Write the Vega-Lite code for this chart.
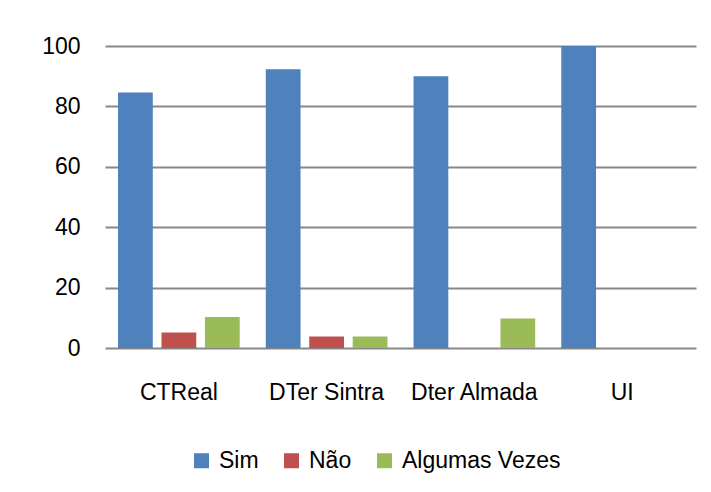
{
  "$schema": "https://vega.github.io/schema/vega-lite/v6.json",
  "width": 591,
  "height": 302,
  "autosize": {"type": "none"},
  "padding": {"left": 105, "top": 46, "right": 15, "bottom": 144},
  "background": "white",
  "config": {
    "view": {"stroke": null},
    "font": "Liberation Sans",
    "axis": {"labelFont": "Liberation Sans", "labelColor": "#000000"},
    "legend": {"labelFont": "Liberation Sans"}
  },
  "data": {
    "values": [
      {"local": "CTReal", "resposta": "Sim", "valor": 84.6},
      {"local": "CTReal", "resposta": "Não", "valor": 5.1},
      {"local": "CTReal", "resposta": "Algumas Vezes", "valor": 10.3},
      {"local": "DTer Sintra", "resposta": "Sim", "valor": 92.3},
      {"local": "DTer Sintra", "resposta": "Não", "valor": 3.8},
      {"local": "DTer Sintra", "resposta": "Algumas Vezes", "valor": 3.8},
      {"local": "Dter Almada", "resposta": "Sim", "valor": 90},
      {"local": "Dter Almada", "resposta": "Não", "valor": 0},
      {"local": "Dter Almada", "resposta": "Algumas Vezes", "valor": 9.8},
      {"local": "UI", "resposta": "Sim", "valor": 100},
      {"local": "UI", "resposta": "Não", "valor": 0},
      {"local": "UI", "resposta": "Algumas Vezes", "valor": 0}
    ]
  },
  "mark": {"type": "bar"},
  "encoding": {
    "x": {
      "field": "local",
      "type": "nominal",
      "sort": null,
      "scale": {"paddingInner": 0, "paddingOuter": 0},
      "axis": {
        "title": null,
        "labelAngle": 0,
        "ticks": false,
        "domain": false,
        "grid": false,
        "labelFontSize": 23,
        "labelBaseline": "alphabetic",
        "labelPadding": 51
      }
    },
    "xOffset": {
      "field": "resposta",
      "type": "nominal",
      "sort": ["Sim", "Não", "Algumas Vezes"],
      "scale": {"paddingInner": 0.2, "paddingOuter": 0.3}
    },
    "y": {
      "field": "valor",
      "type": "quantitative",
      "scale": {"domain": [0, 100], "nice": false},
      "axis": {
        "title": null,
        "values": [0, 20, 40, 60, 80, 100],
        "ticks": false,
        "domain": false,
        "grid": true,
        "gridColor": "#888888",
        "gridWidth": 2,
        "labelFontSize": 23,
        "labelPadding": 25
      }
    },
    "color": {
      "field": "resposta",
      "type": "nominal",
      "sort": ["Sim", "Não", "Algumas Vezes"],
      "scale": {
        "domain": ["Sim", "Não", "Algumas Vezes"],
        "range": ["#4F81BD", "#C0504D", "#9BBB59"]
      },
      "legend": {
        "title": null,
        "orient": "none",
        "direction": "horizontal",
        "legendX": 85,
        "legendY": 403,
        "symbolType": "square",
        "symbolSize": 225,
        "symbolStrokeWidth": 0,
        "labelFontSize": 23,
        "labelOffset": 6,
        "columnPadding": 21,
        "labelColor": "#000000"
      }
    }
  }
}
